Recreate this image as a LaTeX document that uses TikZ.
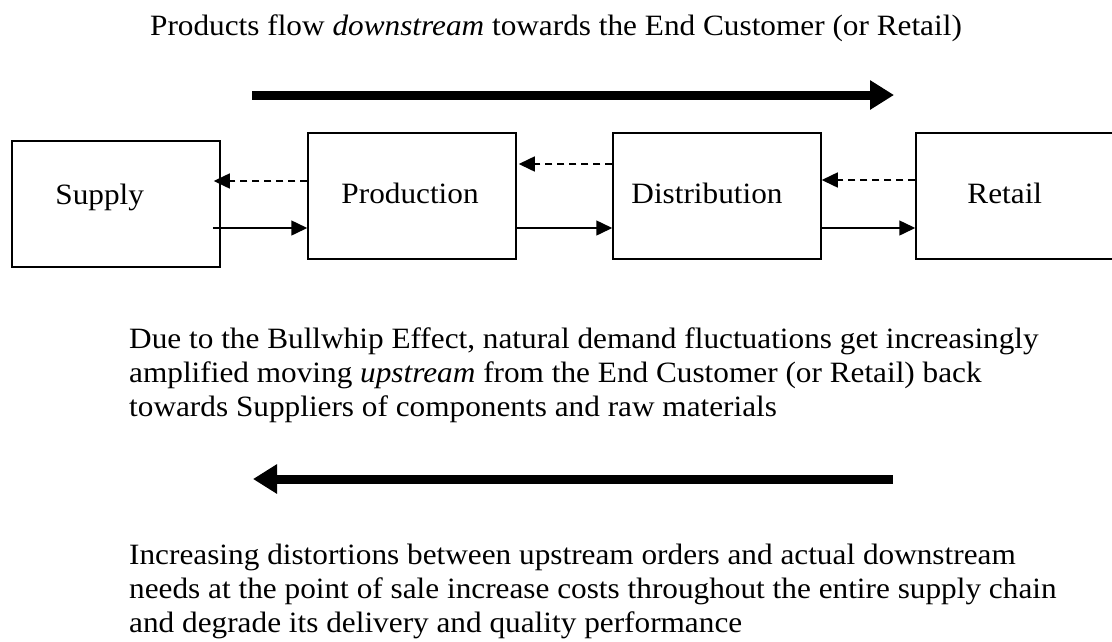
\documentclass[tikz,border=0pt]{standalone}
\usepackage{fontspec}
\setmainfont{Liberation Serif}[FakeStretch=1.06]
\usetikzlibrary{arrows.meta,positioning,calc}

\begin{document}
\begin{tikzpicture}[
    x=1pt, y=-1pt,
    font=\fontsize{29.5}{34}\selectfont,
    stage/.style={rectangle, draw, line width=1.5pt, minimum width=208pt, minimum height=126pt, inner sep=0pt},
    goods/.style={line width=1.5pt, -{Triangle[length=16pt,width=15pt]}},
    orders/.style={goods, dash pattern=on 7pt off 5pt},
    bigflow/.style={line width=9pt, -{Triangle[length=24pt,width=28pt]}},
    caption/.style={anchor=base west, inner sep=0pt, align=left}
]
\useasboundingbox (0,0) rectangle (1112,641);

% Stages of the chain
\node (supply) [stage] at (116,204) {};
\node (production) [stage] at (412,196) {};
\node (distribution) [stage] at (717,196) {};
\node (retail) [stage] at (1020,196) {};

% Stage names
\node (supplyname) [caption] at ($(supply.west)+(44,0)$) {Supply};
\node (productionname) [caption] at ($(production.west)+(34,7)$) {Production};
\node (distributionname) [caption] at ($(distribution.west)+(19,7)$) {Distribution};
\node (retailname) [caption] at ($(retail.west)+(52,7)$) {Retail};

% Goods downstream, orders upstream
\draw[goods] ([shift={(-8,24)}]supply.east) -- ([shift={(0,32)}]production.west);
\draw[goods] ([shift={(0,32)}]production.east) -- ([shift={(0,32)}]distribution.west);
\draw[goods] ([shift={(0,32)}]distribution.east) -- ([shift={(0,32)}]retail.west);
\draw[orders] ([shift={(0,-15)}]production.west) -- ([shift={(-7,-23)}]supply.east);
\draw[orders] ([shift={(0,-32)}]distribution.west) -- ([shift={(2,-32)}]production.east);
\draw[orders] ([shift={(0,-16)}]retail.west) -- ([shift={(0,-16)}]distribution.east);

% Big direction arrows
\coordinate (flowstart) at (252,95);
\coordinate (flowend) at (894,95);
\coordinate (demandstart) at (893,479);
\coordinate (demandend) at (253,479);
\draw[bigflow] (flowstart) -- (flowend);
\draw[bigflow] (demandstart) -- (demandend);

% Texts (base = last line)
\node (downstream) [anchor=base, inner sep=0pt] at (556,35) {Products flow \emph{downstream} towards the End Customer (or Retail)};
\node (bullwhip) [caption] at (129,416) {Due to the Bullwhip Effect, natural demand fluctuations get increasingly\\amplified moving \emph{upstream} from the End Customer (or Retail) back\\towards Suppliers of components and raw materials};
\node (distortion) [caption] at (129,632) {Increasing distortions between upstream orders and actual downstream\\needs at the point of sale increase costs throughout the entire supply chain\\and degrade its delivery and quality performance};

\end{tikzpicture}
\end{document}
